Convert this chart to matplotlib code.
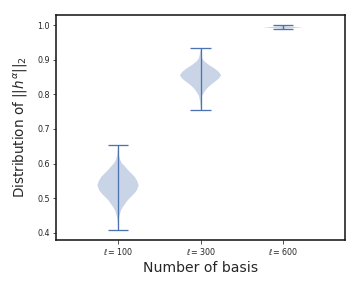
import matplotlib
matplotlib.use("Agg")
import matplotlib.pyplot as plt

# ---- data ----
categories = [r"$\ell=100$", r"$\ell=300$", r"$\ell=600$"]
positions = [1, 2, 3]

g1_coords = [0.409, 0.430, 0.445, 0.455, 0.465, 0.475, 0.485, 0.495, 0.505, 0.515,
             0.525, 0.538, 0.550, 0.562, 0.572, 0.582, 0.592, 0.601, 0.612, 0.625,
             0.640, 0.654]
g1_dens = [0.0, 0.3, 1.0, 2.0, 3.0, 5.0, 7.5, 10.0, 13.5, 17.0,
           19.5, 21.0, 19.5, 17.0, 13.5, 10.0, 7.0, 4.0, 2.0, 0.8,
           0.3, 0.0]
g1_stats = dict(min=0.409, max=0.654, mean=0.535, median=0.538)

g2_coords = [0.756, 0.780, 0.795, 0.805, 0.815, 0.825, 0.835, 0.845, 0.855, 0.865,
             0.875, 0.885, 0.895, 0.905, 0.920, 0.935]
g2_dens = [0.0, 0.5, 1.5, 3.5, 6.0, 9.5, 14.0, 18.5, 21.0, 18.5,
           14.0, 8.5, 4.0, 1.5, 0.5, 0.0]
g2_stats = dict(min=0.756, max=0.935, mean=0.852, median=0.855)

g3_coords = [0.988, 0.990, 0.992, 0.993, 0.994, 0.996, 0.998, 1.000]
g3_dens = [0.0, 3.0, 15.0, 21.0, 15.0, 3.0, 0.5, 0.0]
g3_stats = dict(min=0.988, max=1.000, mean=0.993, median=0.993)

yticks = [0.4, 0.5, 0.6, 0.7, 0.8, 0.9, 1.0]

# ---- plot ----
LINE = "#4c72b0"
TXT = "#262626"

fig = plt.figure(figsize=(5, 4), dpi=72)
ax = fig.add_axes([0.156, 0.167, 0.802, 0.781])

vpstats = []
for c, d, s in [(g1_coords, g1_dens, g1_stats),
                (g2_coords, g2_dens, g2_stats),
                (g3_coords, g3_dens, g3_stats)]:
    vpstats.append(dict(coords=c, vals=d, **s))

parts = ax.violin(vpstats, positions=positions, widths=0.5,
                  showmeans=False, showextrema=True, showmedians=False)
for b in parts["bodies"]:
    b.set_facecolor(LINE)
    b.set_edgecolor("none")
    b.set_alpha(0.3)
for key in ("cbars", "cmins", "cmaxes"):
    parts[key].set_color(LINE)
    parts[key].set_linewidth(1.3)

ax.set_xlim(0.25, 3.75)
ax.set_ylim(0.38, 1.029)
ax.set_xticks(positions)
ax.set_xticklabels(categories)
ax.set_yticks(yticks)
ax.set_yticklabels([f"{v:.1f}" for v in yticks])
ax.tick_params(axis="both", labelsize=8, colors=TXT, length=3.5, width=0.8,
               direction="out", pad=3)

for sp in ax.spines.values():
    sp.set_color("#1a1a1a")
    sp.set_linewidth(1.6)

ax.set_xlabel("Number of basis", fontsize=14, color=TXT, labelpad=4)
ax.set_ylabel(r"Distribution of $||h^{\alpha}||_2$", fontsize=13.5, color=TXT,
              labelpad=7)

fig.savefig("out.png", dpi=72)
